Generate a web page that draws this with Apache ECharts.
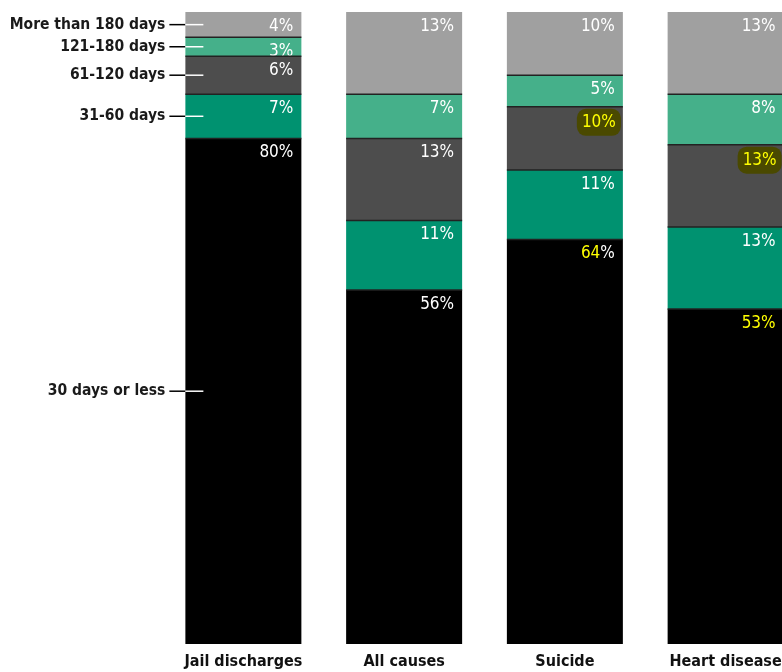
<!DOCTYPE html>
<html>
<head>
<meta charset="utf-8">
<script src="https://cdn.jsdelivr.net/npm/echarts@6/dist/echarts.min.js"></script>
<style>
  html, body { margin: 0; padding: 0; background: #fff; }
  #main { width: 782px; height: 672px; }
</style>
</head>
<body>
<div id="main"></div>
<script>
const categories = ['Jail discharges', 'All causes', 'Suicide', 'Heart disease']
const seriesNames = ['30 days or less', '31-60 days', '61-120 days', '121-180 days', 'More than 180 days']
const days30 = [80, 56, 64, 53]
const days31to60 = [7, 11, 11, 13]
const days61to120 = [6, 13, 10, 13]
const days121to180 = [3, 7, 5, 8]
const days180plus = [4, 13, 10, 13]

const FONT = "'Liberation Sans Narrow', 'DejaVu Sans Condensed', 'Roboto Condensed', sans-serif"
const colors = ['#000000', '#009270', '#4d4d4d', '#45b08a', '#a0a0a0']
const allData = [days30, days31to60, days61to120, days121to180, days180plus]
const barWidth = 116

function isBoxed(s, i) {
  return s === 2 && (i === 2 || i === 3)
}

// which labels are highlighted in the reference
function labelFormatter(seriesIdx) {
  return function (p) {
    const v = p.value
    if (isBoxed(seriesIdx, p.dataIndex)) return '{hl|' + v + '%}'
    if (seriesIdx === 0 && p.dataIndex === 2) return '{y|' + v + '}{w|%}'
    if (seriesIdx === 0 && p.dataIndex === 3) return '{y|' + v + '%}'
    return '{w|' + v + '%}'
  }
}

const chart = echarts.init(document.getElementById('main'))

const series = allData.map((arr, s) => ({
  name: seriesNames[s],
  type: 'bar',
  stack: 'total',
  barWidth: barWidth,
  data: arr.map((v, i) => isBoxed(s, i) ? { value: v, label: { offset: [4, -4] } } : v),
  itemStyle: { color: colors[s] },
  label: {
    show: true,
    position: 'insideTopRight',
    distance: 6,
    offset: [-2, 0],
    formatter: labelFormatter(s),
    rich: {
      w: { color: '#ffffff', fontFamily: FONT, fontSize: 17 },
      y: { color: '#ffff00', fontFamily: FONT, fontSize: 17 },
      hl: {
        color: '#ffff00', fontFamily: FONT, fontSize: 17,
        backgroundColor: '#4a4900', borderRadius: 9, padding: [5, 5, 5, 5]
      }
    }
  },
  emphasis: { disabled: true },
  animation: false
}))

chart.setOption({
  animation: false,
  grid: { left: 163, top: 12, width: 643, height: 632, containLabel: false, outerBoundsMode: 'none' },
  xAxis: {
    type: 'category',
    data: categories,
    axisLine: { show: false },
    axisTick: { show: false },
    axisLabel: {
      interval: 0,
      hideOverlap: false,
      color: '#111',
      fontFamily: FONT,
      fontWeight: 'bold',
      fontSize: 16,
      margin: 10
    }
  },
  yAxis: {
    type: 'value',
    min: 0,
    max: 100,
    show: false,
    splitLine: { show: false }
  },
  series: series
})

// separators between segments + left-side annotations, placed via the chart's own scales
const graphics = []
categories.forEach((c, ci) => {
  let cum = 0
  for (let s = 0; s < allData.length - 1; s++) {
    cum += allData[s][ci]
    const pt = chart.convertToPixel({ gridIndex: 0 }, [ci, cum])
    graphics.push({
      type: 'line',
      shape: { x1: pt[0] - barWidth / 2, y1: pt[1], x2: pt[0] + barWidth / 2, y2: pt[1] },
      style: { stroke: '#222', lineWidth: 1.5 },
      z: 10
    })
  }
})

let cum = 0
allData.forEach((arr, s) => {
  const mid = cum + arr[0] / 2
  cum += arr[0]
  const pt = chart.convertToPixel({ gridIndex: 0 }, [0, mid])
  const left = pt[0] - barWidth / 2
  graphics.push({
    type: 'text',
    x: left - 20,
    y: pt[1],
    style: {
      text: seriesNames[s],
      fill: '#1a1a1a',
      font: 'bold 15.5px ' + FONT,
      align: 'right',
      verticalAlign: 'middle'
    },
    z: 10
  })
  graphics.push({
    type: 'line',
    shape: { x1: left - 16, y1: pt[1], x2: left, y2: pt[1] },
    style: { stroke: '#000', lineWidth: 1.5 },
    z: 10
  })
  graphics.push({
    type: 'line',
    shape: { x1: left, y1: pt[1], x2: left + 18, y2: pt[1] },
    style: { stroke: '#fff', lineWidth: 1.5 },
    z: 10
  })
})

chart.setOption({ graphic: graphics })
</script>
</body>
</html>
